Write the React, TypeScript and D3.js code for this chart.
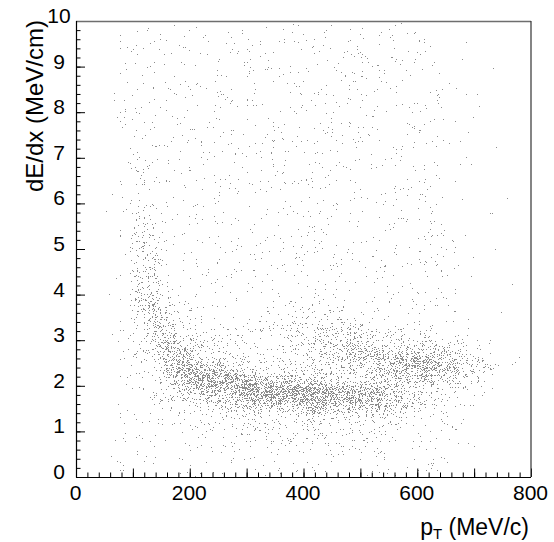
import { useEffect, useRef } from "react"
import * as d3 from "d3"

// axis layout values
const xMax = 800
const yMax = 10
const xLabelTicks = [0, 200, 400, 600, 800]
const yLabelTicks = [0, 1, 2, 3, 4, 5, 6, 7, 8, 9, 10]

// 2D density: bins of 25 MeV/c (32 columns) x 0.25 MeV/cm (40 rows),
// rows from dE/dx = 10 down to 0, one digit per bin = density level
const xBin = 25
const yBin = 0.25
const densityRows = [
  "0012 2222 2222 2222 2222 2222 2111 1100",
  "0012 2222 2222 2222 2222 2222 2111 1100",
  "0012 2222 2222 2222 2222 2222 2111 1100",
  "0012 2222 2222 2222 2222 2222 2111 1100",
  "0012 2222 2222 2222 2222 2222 2211 1110",
  "0012 2222 2222 2222 2222 2222 2211 1110",
  "0012 2222 2222 2222 2222 2222 2211 1110",
  "0012 2222 2222 2222 2222 2222 2211 1110",
  "0012 2222 2222 2222 2222 2222 2211 1110",
  "0012 2222 2222 2222 2222 2222 2211 1110",
  "0012 2222 2222 2222 2222 2222 2211 1110",
  "0012 2222 2222 2222 2222 2222 2211 1110",
  "0012 3222 2222 2222 2222 2222 2211 1110",
  "0012 3222 2222 2222 2222 2222 2211 1110",
  "0012 3222 2222 2222 2222 2222 2211 1110",
  "0012 3222 2222 2222 2222 2222 2211 1110",
  "0012 3322 2222 2222 2222 2222 2211 1110",
  "0012 3322 2222 2222 2222 2222 2211 1110",
  "0012 4322 2222 2222 2222 2222 2221 1110",
  "0012 4322 2222 2222 2222 2222 2221 1110",
  "0012 4422 2222 2222 2222 2222 2221 1110",
  "0012 5422 2222 2222 2222 2222 2221 1110",
  "0012 5522 2222 2222 2222 2222 2221 1110",
  "0012 5522 2222 2222 2222 2222 2221 1110",
  "0012 5632 2222 2223 3322 2222 2221 1110",
  "0012 4643 2222 2233 3332 2222 2221 1110",
  "0012 3653 3222 2334 4443 3222 2222 1110",
  "0012 3664 3333 3334 4555 4443 3322 1110",
  "0012 3575 4333 3334 4556 6555 5443 2110",
  "0012 3477 5444 3334 4456 6777 7765 3211",
  "0012 2368 7665 4444 4445 5667 7765 4321",
  "0012 2357 8888 7666 6555 5555 6554 3211",
  "0012 2345 6778 9999 9888 7765 4332 2110",
  "0012 2234 4556 7777 8877 7765 4332 1110",
  "0012 2233 3344 4445 5555 5443 3322 1110",
  "0012 2223 3333 3333 3333 3332 2222 1110",
  "0012 2222 2223 3333 3333 3322 2222 1110",
  "0022 2222 2222 2233 3333 3222 2222 1110",
  "0022 2222 2222 2222 2222 2222 2221 1110",
  "0012 2222 2222 2222 2222 2222 2211 1100",
]

// fraction of pixels hit per density level
const levelDensity = [0, 0.005, 0.02, 0.04, 0.065, 0.11, 0.19, 0.3, 0.43, 0.6]

// rank curve that flattens the turbulence noise so it can be used as a threshold
const noiseCurve = [
  0, 0.0001, 0.0004, 0.0018, 0.0062, 0.0188, 0.0475, 0.1056, 0.2023, 0.3372, 0.5,
  0.6628, 0.7977, 0.8944, 0.9525, 0.9812, 0.9938, 0.9982, 0.9996, 0.9999, 1,
]

interface Cell {
  col: number
  row: number
  level: number
}

export default function App() {
  const ref = useRef<SVGSVGElement>(null)

  useEffect(() => {
    if (!ref.current) return
    const el = ref.current
    d3.select(el).selectAll("*").remove()

    const W = 554
    const H = 542
    const margin = { top: 21, right: 23, bottom: 65, left: 76 }
    const iW = W - margin.left - margin.right
    const iH = H - margin.top - margin.bottom
    const font = "'Liberation Sans', Arial, Helvetica, sans-serif"

    // density is stored in alpha scaled by gain for 8-bit precision; each noise layer takes a share
    const gain = 1.6
    const share = 0.56
    const table = noiseCurve.map((v) => Math.min(1, (v * gain) / share).toFixed(4)).join(" ")

    const svg = d3.select(el).attr("width", W).attr("height", H).attr("viewBox", `0 0 ${W} ${H}`)
    svg.append("rect").attr("width", W).attr("height", H).attr("fill", "#fff")

    const g = svg.append("g").attr("transform", `translate(${margin.left},${margin.top})`)

    const x = d3.scaleLinear().domain([0, xMax]).range([0, iW])
    const y = d3.scaleLinear().domain([0, yMax]).range([iH, 0])

    // stipple filter: blurred density thresholded against two noise layers
    const defs = svg.append("defs")
    const f = defs
      .append("filter")
      .attr("id", "stipple")
      .attr("filterUnits", "userSpaceOnUse")
      .attr("x", 0)
      .attr("y", 0)
      .attr("width", iW)
      .attr("height", iH)
      .attr("color-interpolation-filters", "sRGB")
    f.append("feGaussianBlur").attr("in", "SourceGraphic").attr("stdDeviation", 4).attr("result", "dens")

    const layer = (freq: number, seed: number, name: string) => {
      f.append("feTurbulence")
        .attr("type", "fractalNoise")
        .attr("baseFrequency", freq)
        .attr("numOctaves", 2)
        .attr("seed", seed)
        .attr("result", `t${name}`)
      f.append("feColorMatrix")
        .attr("in", `t${name}`)
        .attr("type", "matrix")
        .attr("values", "0 0 0 0 0  0 0 0 0 0  0 0 0 0 0  1 0 0 0 0")
        .attr("result", `r${name}`)
      f.append("feComponentTransfer")
        .attr("in", `r${name}`)
        .attr("result", `n${name}`)
        .append("feFuncA")
        .attr("type", "table")
        .attr("tableValues", table)
      f.append("feComposite")
        .attr("in", "dens")
        .attr("in2", `n${name}`)
        .attr("operator", "arithmetic")
        .attr("k1", 0)
        .attr("k2", 1)
        .attr("k3", -1)
        .attr("k4", 0.4976)
        .attr("result", `d${name}`)
      f.append("feComponentTransfer")
        .attr("in", `d${name}`)
        .attr("result", `m${name}`)
        .append("feFuncA")
        .attr("type", "discrete")
        .attr("tableValues", "0 1")
    }
    layer(1.37, 4, "A")
    layer(1.83, 9, "B")
    f.append("feComposite").attr("in", "mA").attr("in2", "mB").attr("operator", "over").attr("result", "mask")
    f.append("feFlood").attr("flood-color", "#8c8c8c").attr("result", "ink")
    f.append("feComposite").attr("in", "ink").attr("in2", "mask").attr("operator", "in")

    const cells: Cell[] = []
    densityRows.forEach((s, row) => {
      s.replace(/ /g, "")
        .split("")
        .forEach((ch, col) => cells.push({ col, row, level: +ch }))
    })

    g.append("g")
      .attr("filter", "url(#stipple)")
      .selectAll("rect")
      .data(cells.filter((d) => d.level > 0))
      .join("rect")
      .attr("x", (d) => x(d.col * xBin))
      .attr("y", (d) => y(yMax - d.row * yBin))
      .attr("width", x(xBin) - x(0))
      .attr("height", y(0) - y(yBin))
      .attr("fill", "#000")
      .attr("fill-opacity", (d) => Math.min(1, levelDensity[d.level] * gain))

    // ticks, drawn inside the frame
    const tickAxis = (ax: d3.Selection<SVGGElement, unknown, null, undefined>) => {
      ax.select(".domain").remove()
      ax.selectAll(".tick text").remove()
      ax.selectAll(".tick line").attr("stroke", "#000")
    }
    const yMinor = d3.range(0, 51).map((i) => i / 5)
    const xMinor = d3.range(0, 41).map((i) => i * 20)
    const xMid = d3.range(0, 9).map((i) => i * 100)

    g.append("g").call(d3.axisLeft(y).tickValues(yMinor).tickSize(-4.5)).call(tickAxis)
    g.append("g").call(d3.axisLeft(y).tickValues(yLabelTicks).tickSize(-9)).call(tickAxis)
    g.append("g")
      .attr("transform", `translate(0,${iH})`)
      .call(d3.axisBottom(x).tickValues(xMinor).tickSize(-4.5))
      .call(tickAxis)
    g.append("g")
      .attr("transform", `translate(0,${iH})`)
      .call(d3.axisBottom(x).tickValues(xMid).tickSize(-8.5))
      .call(tickAxis)

    // frame
    g.append("line").attr("x1", 0).attr("x2", iW).attr("y1", 0.5).attr("y2", 0.5).attr("stroke", "#6e6e6e").attr("stroke-width", 1.5)
    g.append("line").attr("x1", iW).attr("x2", iW).attr("y1", 0).attr("y2", iH).attr("stroke", "#333").attr("stroke-width", 1.2)
    g.append("line").attr("x1", 0.5).attr("x2", 0.5).attr("y1", 0).attr("y2", iH + 0.5).attr("stroke", "#000").attr("stroke-width", 1.2)
    g.append("line").attr("x1", 0).attr("x2", iW).attr("y1", iH + 0.5).attr("y2", iH + 0.5).attr("stroke", "#000").attr("stroke-width", 1.2)

    // tick labels
    g.append("g")
      .selectAll("text")
      .data(yLabelTicks)
      .join("text")
      .attr("x", -17)
      .attr("y", (d) => y(d) + 2)
      .attr("text-anchor", "middle")
      .attr("font-family", font)
      .attr("font-size", 21)
      .attr("fill", "#000")
      .text((d) => d)

    g.append("g")
      .selectAll("text")
      .data(xLabelTicks)
      .join("text")
      .attr("x", (d) => x(d) - 0.5)
      .attr("y", iH + 23)
      .attr("text-anchor", "middle")
      .attr("font-family", font)
      .attr("font-size", 21)
      .attr("fill", "#000")
      .text((d) => d)

    // axis titles
    svg.append("text")
      .attr("transform", "translate(43,20) rotate(-90)")
      .attr("text-anchor", "end")
      .attr("font-family", font)
      .attr("font-size", 24)
      .attr("fill", "#000")
      .text("dE/dx (MeV/cm)")

    const xt = svg.append("text")
      .attr("x", 529)
      .attr("y", 535)
      .attr("text-anchor", "end")
      .attr("font-family", font)
      .attr("font-size", 23)
      .attr("fill", "#000")
    xt.append("tspan").text("p")
    xt.append("tspan").attr("font-size", 15).attr("dy", 4).text("T")
    xt.append("tspan").attr("dy", -4).text(" (MeV/c)")
  }, [])

  return <svg ref={ref} style={{ position: "absolute", left: 0, top: 0, display: "block" }} />
}
